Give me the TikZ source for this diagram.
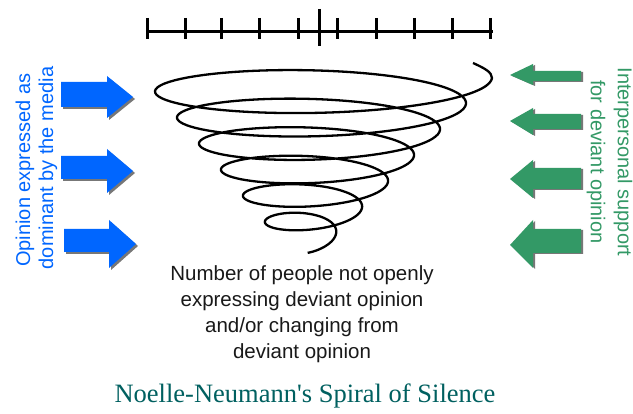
\documentclass[tikz,border=0pt]{standalone}
\usepackage{fontspec}
\setmainfont{Liberation Serif}
\newfontfamily\arialf{Liberation Sans}
\newfontfamily\titlef[Ligatures=TeXOff]{Liberation Serif}
\definecolor{mediablue}{HTML}{0066FF}
\definecolor{supgreen}{HTML}{339966}
\definecolor{titleteal}{HTML}{006060}
\definecolor{shadowgray}{HTML}{777777}
\begin{document}
\begin{tikzpicture}[x=1pt,y=-1pt,
  ruler/.style={line width=3pt,black},
  spiralline/.style={line width=2.3pt,black,line join=round},
  bluearrow/.style={fill=mediablue},
  greenarrow/.style={fill=supgreen},
  arrowshadow/.style={fill=shadowgray},
  sidetext/.style={font=\arialf\fontsize{20}{24}\selectfont,align=center,inner sep=0pt},
  captext/.style={font=\arialf\fontsize{20.5}{26}\selectfont,align=center,text=black!90,inner sep=0pt},
  titletext/.style={font=\titlef\fontsize{26.5}{30}\selectfont,text=titleteal,inner sep=0pt}]
\useasboundingbox[fill=white] (0,0) rectangle (633,414);
% ruler
\coordinate (rl) at (146,32);
\coordinate (rr) at (493,32);
\draw[ruler] (rl) -- (rr);
\foreach \tx in {147,185,221,259,298,337,376,414,452,490}
  \draw[ruler] (\tx,18) -- (\tx,39);
\draw[ruler] (319,9) -- (319,46);
% spiral (parameter in turns)
\coordinate (sp0) at (473,63);
\coordinate (sp1) at (492,78);
\draw[spiralline] (sp0) .. controls (484,68) and (492,72) .. (sp1)
  -- plot[smooth,samples=500,domain=0:6.24]
  ({318-2*\x + (174-24*\x)*cos(360*\x)}, {78+26*\x + (29-2.6*\x)*sin(360*\x)});
% blue arrows (left)
\foreach \sy/\sb/\hy/\hb/\ty/\sx/\hx/\tx in {82/107/76/118/97/61/107/133, 156/179/149/193/171/61/107/133, 229/252/220/268/244/64/109/136}{
  \fill[arrowshadow] (\sx+2,\sy+2) -- (\hx+2,\sy+2) -- (\hx+2,\hy+2) -- (\tx+2,\ty+2) -- (\hx+2,\hb+2) -- (\hx+2,\sb+2) -- (\sx+2,\sb+2) -- cycle;
  \fill[bluearrow] (\sx,\sy) -- (\hx,\sy) -- (\hx,\hy) -- (\tx,\ty) -- (\hx,\hb) -- (\hx,\sb) -- (\sx,\sb) -- cycle;
}
% green arrows (right)
\foreach \sy/\sb/\hy/\hb/\ty in {71/81/64/85/75, 114/129/108/135/121, 168/189/160/198/179, 229/253/220/268/245}{
  \fill[arrowshadow] (583,\sy+1) -- (535,\sy+1) -- (535,\hy+1) -- (512,\ty+1) -- (535,\hb+1) -- (535,\sb+1) -- (583,\sb+1) -- cycle;
  \fill[greenarrow] (581,\sy) -- (533,\sy) -- (533,\hy) -- (510,\ty) -- (533,\hb) -- (533,\sb) -- (581,\sb) -- cycle;
}
% texts
\node[sidetext,text=mediablue,rotate=90] (lt1) at (25,170) {Opinion expressed as};
\node[sidetext,text=mediablue,rotate=90] (lt2) at (48,168) {dominant by the media};
\node[sidetext,text=supgreen,rotate=-90] (rt1) at (623,162) {Interpersonal support};
\node[sidetext,text=supgreen,rotate=-90] (rt2) at (596,162) {for deviant opinion};
\node[captext] (cap) at (302,314) {Number of people not openly\\expressing deviant opinion\\and/or changing from\\deviant opinion};
\node[titletext] (title) at (305,396) {Noelle-Neumann's Spiral of Silence};
\end{tikzpicture}
\end{document}
